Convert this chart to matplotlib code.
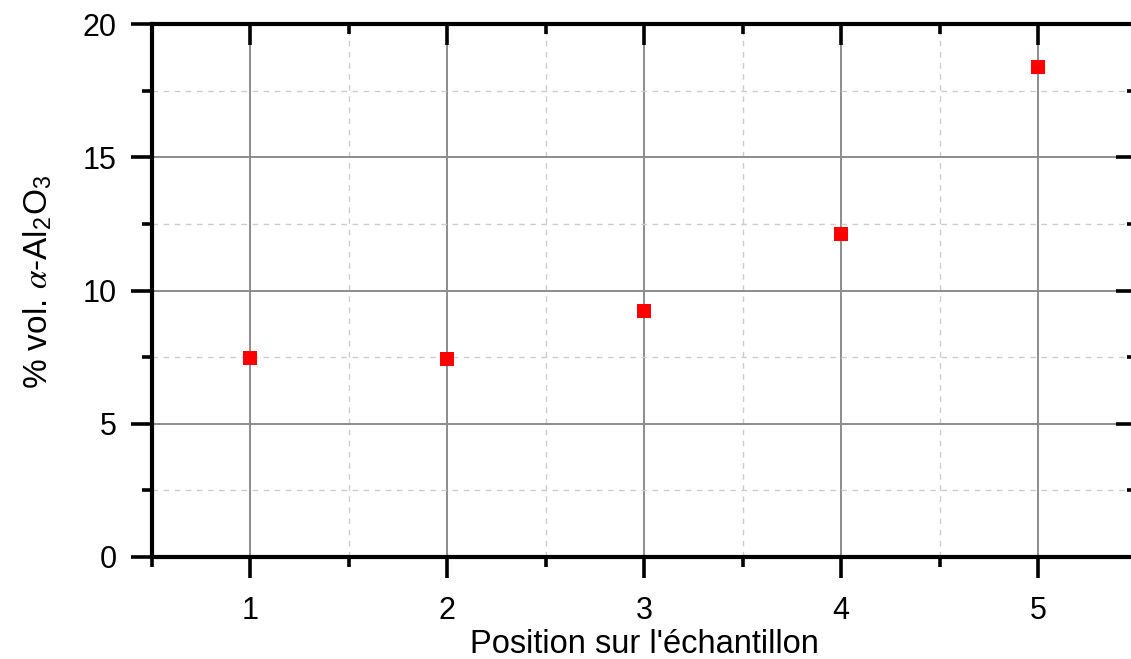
import matplotlib
matplotlib.use("Agg")
import matplotlib.pyplot as plt
from matplotlib.ticker import MultipleLocator

positions = [1, 2, 3, 4, 5]
alumina_pct = [7.47, 7.43, 9.23, 12.12, 18.39]
x_ticks = [1, 2, 3, 4, 5]
y_ticks = [0, 5, 10, 15, 20]

plt.rcParams['font.family'] = ['Liberation Sans', 'DejaVu Sans']
plt.rcParams['mathtext.fontset'] = 'custom'
plt.rcParams['mathtext.rm'] = 'Liberation Sans'
plt.rcParams['mathtext.it'] = 'STIXGeneral:italic'
plt.rcParams['mathtext.bf'] = 'Liberation Sans:bold'

fig = plt.figure(figsize=(11.31, 6.59), dpi=100)
rect = [151.5/1131, 1-557/659, (1136.5-151.5)/1131, (557-24)/659]
ax = fig.add_axes(rect)

XLIM = (0.5, 5.5)
YLIM = (0, 20)
ax.set_xlim(*XLIM)
ax.set_ylim(*YLIM)
ax.set_xticks(x_ticks)
ax.set_yticks(y_ticks)
ax.xaxis.set_minor_locator(MultipleLocator(0.5))
ax.yaxis.set_minor_locator(MultipleLocator(2.5))

ax.grid(True, which='major', color='#8c8c8c', linewidth=1.4, linestyle='-')
ax.grid(True, which='minor', color='#cccccc', linewidth=1.0, linestyle=(0, (4, 4)))
ax.set_axisbelow(True)

for s in ax.spines.values():
    s.set_linewidth(3)
    s.set_color('black')

ax.tick_params(axis='both', which='both', direction='out', top=False, right=False, color='black')
ax.tick_params(axis='both', which='major', length=15, width=2.6, labelsize=22)
ax.tick_params(axis='both', which='minor', length=7.5, width=2.6)
ax.tick_params(axis='x', which='major', pad=13)
ax.tick_params(axis='y', which='major', pad=10)

# overlay axes for inward ticks on top and right
ov = fig.add_axes(rect, frameon=False)
ov.set_xlim(*XLIM)
ov.set_ylim(*YLIM)
ov.set_xticks(x_ticks)
ov.set_yticks(y_ticks)
ov.xaxis.set_minor_locator(MultipleLocator(0.5))
ov.yaxis.set_minor_locator(MultipleLocator(2.5))
ov.patch.set_visible(False)
ov.tick_params(axis='both', which='both', direction='in', color='black',
               top=True, right=True, bottom=False, left=False,
               labeltop=False, labelright=False, labelbottom=False, labelleft=False)
ov.tick_params(axis='both', which='major', length=15, width=2.6)
ov.tick_params(axis='both', which='minor', length=7.5, width=2.6)

ax.scatter(positions, alumina_pct, marker='s', s=90, color='#ff0000', zorder=3, linewidths=0)

ax.set_xlabel("Position sur l'échantillon", fontsize=23.5, labelpad=2)
ax.set_ylabel(r"% vol. $\alpha$-Al$_\mathrm{2}$O$_\mathrm{3}$", fontsize=24)
ax.yaxis.set_label_coords((55 - 151.5) / 985, (557 - 282) / 533)

fig.savefig('out.png', dpi=100)
